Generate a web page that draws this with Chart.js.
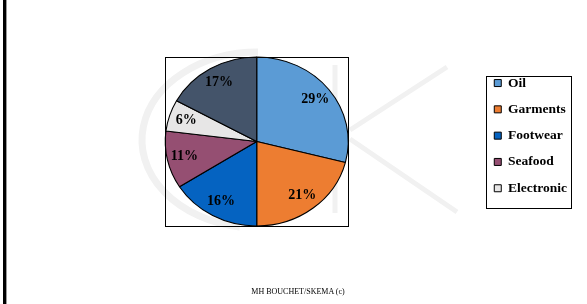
<!DOCTYPE html>
<html><head><meta charset="utf-8">
<script src="https://cdn.jsdelivr.net/npm/chart.js@4"></script>
<style>
html,body{margin:0;padding:0;background:#fff;}
#wrap{position:relative;width:587px;height:304px;overflow:hidden;background:#fff;}
#bar{position:absolute;left:3px;top:0;width:3px;height:304px;background:#000;border-right:1px solid #9a9a9a;}
#foot{position:absolute;left:0;width:596px;top:287px;text-align:center;font:8px "Liberation Serif","Times New Roman",serif;color:#000;white-space:nowrap;}
canvas{position:absolute;left:0;top:0;}
</style></head><body>
<div id="wrap"><div id="bar"></div><canvas id="c" width="587" height="304"></canvas><div id="foot">MH BOUCHET/SKEMA (c)</div></div>
<script>
// ---- data ----
const categories = ['Oil', 'Garments', 'Footwear', 'Seafood', 'Electronic', 'Other'];
const shares = [29, 21, 16, 11, 6, 17];
const legendCategories = ['Oil', 'Garments', 'Footwear', 'Seafood', 'Electronic'];
const sliceColors = ['#5B9BD5', '#ED7D31', '#0563C1', '#954F72', '#E7E6E6', '#44546A'];

const SX = 91.5 / 84.5; // horizontal stretch of the pie (elliptical in reference)
const serif = '"Liberation Serif","Times New Roman",serif';

const watermark = {
  id: 'watermark',
  beforeDraw(chart) {
    const ctx = chart.ctx;
    ctx.save();
    ctx.strokeStyle = '#f1f1f1';
    ctx.lineWidth = 7;
    ctx.beginPath();
    ctx.ellipse(258, 140, 116, 88, 0, Math.PI * 0.55, Math.PI * 1.5);
    ctx.stroke();
    ctx.lineWidth = 5;
    ctx.beginPath();
    ctx.moveTo(335, 65); ctx.lineTo(335, 213);
    ctx.moveTo(350, 130); ctx.lineTo(447, 67);
    ctx.moveTo(350, 139); ctx.lineTo(457, 212);
    ctx.stroke();
    ctx.restore();
  }
};

const stretch = {
  id: 'stretch',
  beforeDatasetsDraw(chart) {
    const a = chart.getDatasetMeta(0).data[0];
    const ctx = chart.ctx;
    ctx.save();
    ctx.translate(a.x, a.y);
    ctx.scale(SX, 1);
    ctx.translate(-a.x, -a.y);
  },
  afterDatasetsDraw(chart) {
    const ctx = chart.ctx;
    ctx.restore();
    const meta = chart.getDatasetMeta(0);
    const a0 = meta.data[0];
    const R = a0.outerRadius;
    ctx.save();
    ctx.strokeStyle = '#000';
    ctx.lineWidth = 1;
    ctx.strokeRect(Math.round(a0.x - R * SX) + 0.5, Math.round(a0.y - R) + 0.5,
                   Math.round(2 * R * SX), Math.round(2 * R));
    ctx.fillStyle = '#000';
    ctx.font = 'bold 14px ' + serif;
    ctx.textAlign = 'center';
    ctx.textBaseline = 'middle';
    meta.data.forEach((arc, i) => {
      const mid = (arc.startAngle + arc.endAngle) / 2;
      const r = arc.outerRadius * 0.81;
      ctx.fillText(shares[i] + '%', arc.x + Math.cos(mid) * r * SX, arc.y + Math.sin(mid) * r);
    });
    ctx.restore();
  }
};

const legendFrame = {
  id: 'legendFrame',
  afterDraw(chart) {
    const hb = chart.legend.legendHitBoxes;
    if (!hb || !hb.length) return;
    const first = hb[0], last = hb[hb.length - 1];
    const maxW = Math.max(...hb.map(h => h.width));
    const ctx = chart.ctx;
    const x0 = Math.round(first.left - 8) + 0.5;
    const x1 = Math.round(first.left + maxW + 4) + 0.5;
    const y0 = Math.round(first.top + first.height / 2 - 7) + 0.5;
    const y1 = Math.round(last.top + last.height / 2 + 20) + 0.5;
    ctx.save();
    ctx.strokeStyle = '#000';
    ctx.lineWidth = 1;
    ctx.strokeRect(x0, y0, x1 - x0, y1 - y0);
    ctx.restore();
  }
};

new Chart(document.getElementById('c'), {
  type: 'pie',
  data: {
    labels: categories,
    datasets: [{
      data: shares,
      backgroundColor: sliceColors,
      borderColor: '#000',
      borderWidth: 1,
      radius: 84.5,
      clip: false
    }]
  },
  options: {
    responsive: false,
    animation: false,
    events: [],
    rotation: 0,
    layout: { padding: { left: 32, right: 10, top: 63.5, bottom: 84.5 } },
    plugins: {
      tooltip: { enabled: false },
      legend: {
        position: 'right',
        align: 'start',
        labels: {
          boxWidth: 7,
          boxHeight: 7,
          padding: 12.8,
          color: '#000',
          font: { family: serif, size: 13.5, weight: 'bold' },
          filter: (item) => legendCategories.includes(item.text)
        }
      }
    }
  },
  plugins: [watermark, stretch, legendFrame]
});
</script>
</body></html>
